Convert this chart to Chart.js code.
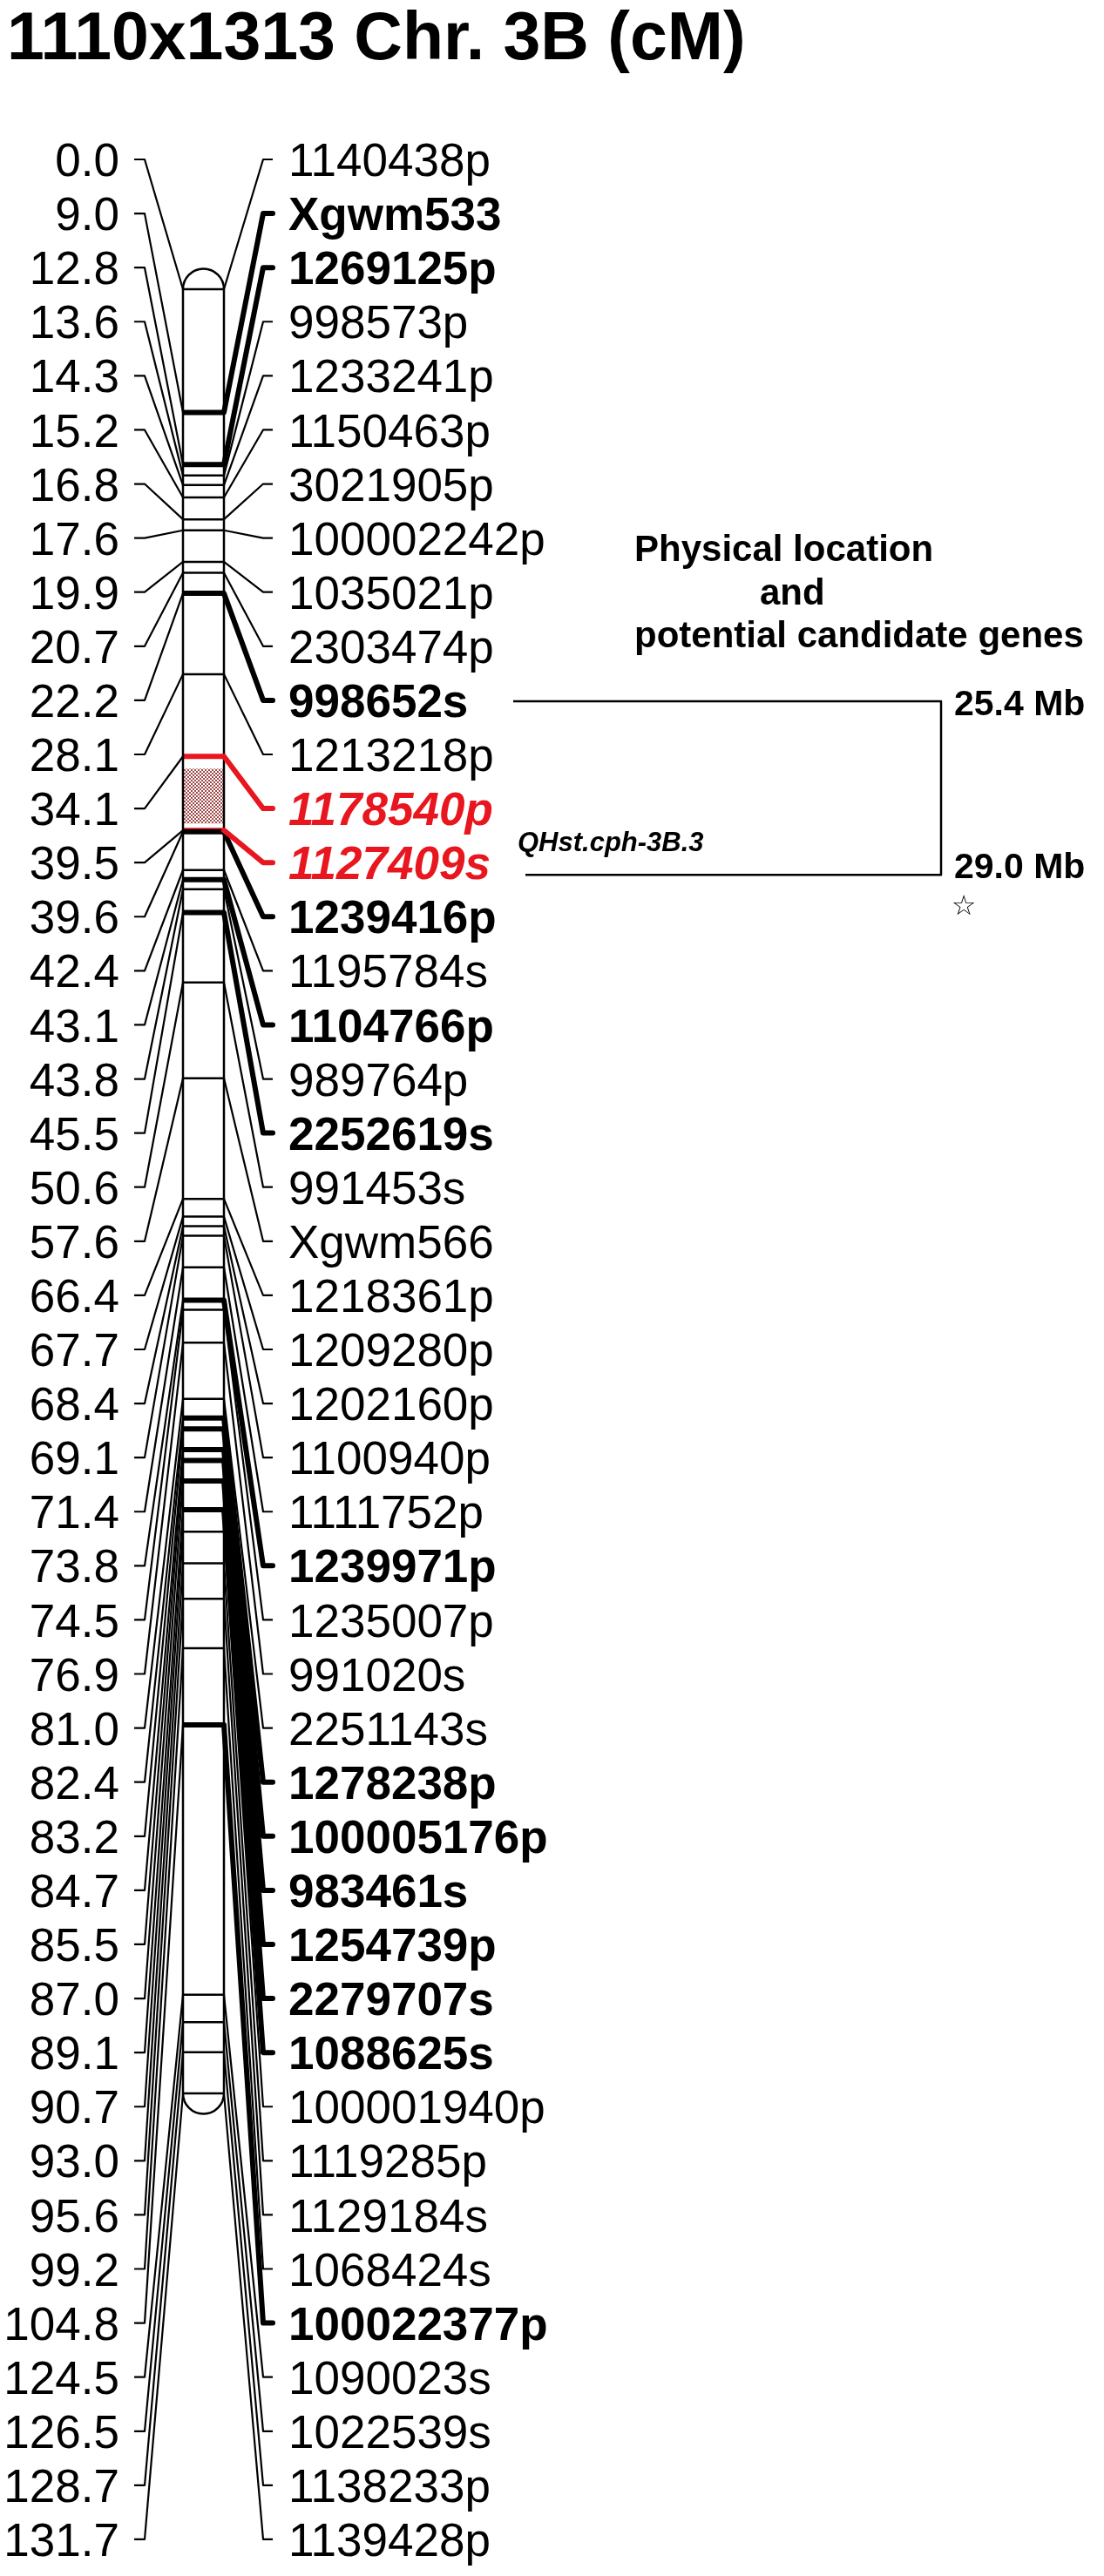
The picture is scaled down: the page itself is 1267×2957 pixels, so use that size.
<!DOCTYPE html>
<html>
<head>
<meta charset="utf-8">
<title>1110x1313 Chr. 3B (cM)</title>
<script src="https://cdn.jsdelivr.net/npm/chart.js@4.4.1/dist/chart.umd.min.js"></script>
<style>
  html, body { margin: 0; padding: 0; background: #fff; overflow: hidden; }
  #map { display: block; }
</style>
</head>
<body>
<canvas id="map" width="1267" height="2957"></canvas>
<script>
// --- data ---
const mapTitle = '1110x1313 Chr. 3B (cM)';

const positions = [0.0, 9.0, 12.8, 13.6, 14.3, 15.2, 16.8, 17.6, 19.9, 20.7, 22.2, 28.1, 34.1, 39.5, 39.6,
  42.4, 43.1, 43.8, 45.5, 50.6, 57.6, 66.4, 67.7, 68.4, 69.1, 71.4, 73.8, 74.5, 76.9, 81.0, 82.4, 83.2,
  84.7, 85.5, 87.0, 89.1, 90.7, 93.0, 95.6, 99.2, 104.8, 124.5, 126.5, 128.7, 131.7];

const markers = ['1140438p', 'Xgwm533', '1269125p', '998573p', '1233241p', '1150463p', '3021905p',
  '100002242p', '1035021p', '2303474p', '998652s', '1213218p', '1178540p', '1127409s', '1239416p',
  '1195784s', '1104766p', '989764p', '2252619s', '991453s', 'Xgwm566', '1218361p', '1209280p',
  '1202160p', '1100940p', '1111752p', '1239971p', '1235007p', '991020s', '2251143s', '1278238p',
  '100005176p', '983461s', '1254739p', '2279707s', '1088625s', '100001940p', '1119285p', '1129184s',
  '1068424s', '100022377p', '1090023s', '1022539s', '1138233p', '1139428p'];

// n = normal, b = bold, r = red (QTL flanking)
const markerStyle = ['n', 'b', 'b', 'n', 'n', 'n', 'n', 'n', 'n', 'n', 'b', 'n', 'r', 'r', 'b',
  'n', 'b', 'n', 'b', 'n', 'n', 'n', 'n', 'n', 'n', 'n', 'b', 'n', 'n', 'n', 'b', 'b',
  'b', 'b', 'b', 'b', 'n', 'n', 'n', 'n', 'b', 'n', 'n', 'n', 'n'];

const qtlName = 'QHst.cph-3B.3';
const qtlInterval = [35.0, 39.0];

const physHeading = ['Physical location', 'and', 'potential candidate genes'];
const physMarkers = ['998652s', '1127409s'];
const physLabels = ['25.4 Mb', '29.0 Mb'];

// --- layout (pixels) ---
const W = 1267, H = 2957;
const L = {
  chartTop: 332, chartBottom: 2403,
  rowTop: 183, rowPitch: 62.09,
  chromLeft: 210, chromRight: 257,
  leftText: 137, leftTickA: 154, leftTickB: 166,
  rightTickA: 302, rightTickB: 313, rightText: 331,
  labelSize: 53
};
const FONT = '"Liberation Sans", Arial, Helvetica, sans-serif';
const RED = '#e8161e';

function styleOf(i) { return markerStyle[i]; }

// hatched fill for the QTL interval
function makeHatch(ctx) {
  const c = document.createElement('canvas');
  c.width = 4; c.height = 4;
  const p = c.getContext('2d');
  p.fillStyle = '#ffffff';
  p.fillRect(0, 0, 4, 4);
  p.fillStyle = '#a04a4a';
  [[0, 0], [1, 1], [2, 2], [3, 3], [3, 0], [2, 1], [1, 2], [0, 3]].forEach(([a, b]) => p.fillRect(a, b, 1, 1));
  return ctx.createPattern(c, 'repeat');
}

function chromPath(ctx, top, bot) {
  const r = (L.chromRight - L.chromLeft) / 2;
  const cx = L.chromLeft + r;
  ctx.beginPath();
  ctx.moveTo(L.chromLeft, bot);
  ctx.lineTo(L.chromLeft, top);
  ctx.arc(cx, top, r, Math.PI, 2 * Math.PI);
  ctx.lineTo(L.chromRight, bot);
  ctx.arc(cx, bot, r, 0, Math.PI);
  ctx.closePath();
}

const mapPlugin = {
  id: 'linkageMap',
  beforeDatasetsDraw(chart) {
    const { ctx, scales: { y } } = chart;
    const top = y.getPixelForValue(positions[0]);
    const bot = y.getPixelForValue(positions[positions.length - 1]);
    ctx.save();
    chromPath(ctx, top, bot);
    ctx.fillStyle = '#fff';
    ctx.fill();
    const q0 = y.getPixelForValue(qtlInterval[0]);
    const q1 = y.getPixelForValue(qtlInterval[1]);
    ctx.fillStyle = makeHatch(ctx);
    ctx.fillRect(L.chromLeft, q0, L.chromRight - L.chromLeft, q1 - q0);
    ctx.restore();
  },
  afterDatasetsDraw(chart) {
    const { ctx, scales: { y, row } } = chart;
    const top = y.getPixelForValue(positions[0]);
    const bot = y.getPixelForValue(positions[positions.length - 1]);
    ctx.save();
    ctx.lineJoin = 'round';

    // chromosome outline
    chromPath(ctx, top, bot);
    ctx.strokeStyle = '#000';
    ctx.lineWidth = 2.5;
    ctx.stroke();

    // left connectors (all thin)
    ctx.lineWidth = 2.2;
    ctx.lineCap = 'butt';
    positions.forEach((cm, i) => {
      const yc = y.getPixelForValue(cm), yr = row.getPixelForValue(i);
      ctx.beginPath();
      ctx.moveTo(L.leftTickA, yr);
      ctx.lineTo(L.leftTickB, yr);
      ctx.lineTo(L.chromLeft, yc);
      ctx.stroke();
    });

    // right connectors: thin first, then bold, then red
    ['n', 'b', 'r'].forEach(kind => {
      positions.forEach((cm, i) => {
        if (styleOf(i) !== kind) return;
        const yc = y.getPixelForValue(cm), yr = row.getPixelForValue(i);
        ctx.strokeStyle = kind === 'r' ? RED : '#000';
        ctx.lineWidth = kind === 'n' ? 2.2 : 6;
        ctx.lineCap = kind === 'n' ? 'butt' : 'round';
        ctx.beginPath();
        ctx.moveTo(L.chromRight, yc);
        ctx.lineTo(L.rightTickA, yr);
        ctx.lineTo(L.rightTickB, yr);
        ctx.stroke();
      });
    });

    // position labels (left) and marker names (right)
    const fs = L.labelSize;
    ctx.textBaseline = 'alphabetic';
    positions.forEach((cm, i) => {
      const yr = row.getPixelForValue(i) + fs * 0.36;
      ctx.fillStyle = '#000';
      ctx.font = fs + 'px ' + FONT;
      ctx.textAlign = 'right';
      ctx.fillText(cm.toFixed(1), L.leftText, yr);

      const s = styleOf(i);
      ctx.textAlign = 'left';
      ctx.font = (s === 'r' ? 'italic bold ' : s === 'b' ? 'bold ' : '') + fs + 'px ' + FONT;
      ctx.fillStyle = s === 'r' ? RED : '#000';
      ctx.fillText(markers[i], L.rightText, yr);
    });

    // QTL name
    const qRow = (markers.indexOf('1178540p') + markers.indexOf('1127409s')) / 2;
    ctx.fillStyle = '#000';
    ctx.font = 'italic bold 31px ' + FONT;
    ctx.textAlign = 'left';
    ctx.fillText(qtlName, 594, row.getPixelForValue(qRow) + 18);

    // physical location heading
    ctx.font = 'bold 42px ' + FONT;
    ctx.fillText(physHeading[0], 728, 644);
    ctx.fillText(physHeading[1], 872, 694);
    ctx.fillText(physHeading[2], 728, 743);

    // bracket to the physical positions
    const yA = row.getPixelForValue(markers.indexOf(physMarkers[0])) + 1;
    const yB = row.getPixelForValue(markers.indexOf(physMarkers[1])) + 14;
    ctx.strokeStyle = '#000';
    ctx.lineWidth = 2.5;
    ctx.lineCap = 'butt';
    ctx.beginPath();
    ctx.moveTo(589, yA);
    ctx.lineTo(1080, yA);
    ctx.lineTo(1080, yB);
    ctx.lineTo(603, yB);
    ctx.stroke();

    ctx.font = 'bold 41px ' + FONT;
    ctx.fillText(physLabels[0], 1095, yA + 16);
    ctx.fillText(physLabels[1], 1095, yB + 4);

    ctx.font = '32px "DejaVu Sans", sans-serif';
    ctx.textAlign = 'center';
    ctx.textBaseline = 'middle';
    ctx.fillText('\u2606', 1106, yB + 38);

    // title
    ctx.textAlign = 'left';
    ctx.textBaseline = 'alphabetic';
    ctx.font = 'bold 77px ' + FONT;
    ctx.fillText(mapTitle, 8, 68);

    ctx.restore();
  }
};

// one short line across the chromosome per marker
const bandOrder = { b: 0, r: 1, n: 2 };
const bandDatasets = positions.map((cm, i) => ({
  label: markers[i],
  data: [{ x: L.chromLeft, y: cm }, { x: L.chromRight, y: cm }],
  showLine: true,
  borderColor: styleOf(i) === 'r' ? RED : '#000',
  borderWidth: styleOf(i) === 'n' ? 2.5 : 6,
  borderCapStyle: 'butt',
  pointRadius: 0,
  clip: false,
  order: bandOrder[styleOf(i)]
}));

new Chart(document.getElementById('map'), {
  type: 'scatter',
  data: { datasets: bandDatasets },
  options: {
    responsive: false,
    animation: false,
    events: [],
    layout: { padding: { top: L.chartTop, bottom: H - L.chartBottom, left: 0, right: 0 } },
    scales: {
      x: { type: 'linear', min: 0, max: W, display: false },
      y: { type: 'linear', min: positions[0], max: positions[positions.length - 1], reverse: true, display: false },
      row: {
        type: 'linear', position: 'left', reverse: true, display: false,
        min: (L.chartTop - L.rowTop) / L.rowPitch,
        max: (L.chartBottom - L.rowTop) / L.rowPitch
      }
    },
    plugins: { legend: { display: false }, tooltip: { enabled: false } }
  },
  plugins: [mapPlugin]
});
</script>
</body>
</html>
